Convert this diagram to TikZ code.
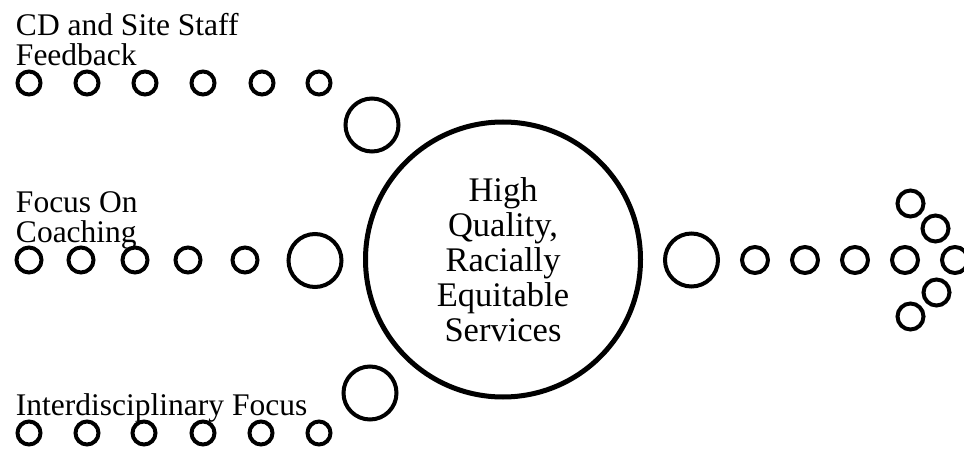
\documentclass[tikz,border=0pt]{standalone}
\usepackage{fontspec}
\newfontfamily\labelfont{Liberation Serif}
\begin{document}
\begin{tikzpicture}[x=1pt,y=-1pt,line width=4pt,
	bigring/.style={draw,circle,inner sep=0pt,minimum size=53pt},
	rowlabel/.style={anchor=north west,inner sep=0pt,align=left,font=\labelfont\fontsize{31.5}{29.5}\selectfont}]
	\useasboundingbox (0,0) rectangle (964,454);
	% centre
	\node[draw,circle,line width=5pt,inner sep=0pt,minimum size=275pt,align=center,
		font=\labelfont\fontsize{34.5}{35}\selectfont] (core) at (503,259.5) {High\\Quality,\\Racially\\Equitable\\Services};
	% feedback row
	\node[rowlabel] (feedback) at (14,11.5) {CD and Site Staff\\Feedback};
	\foreach \x in {29,87,145,203,262,319} \draw (\x,83) circle (11.5pt);
	\node[bigring] (fbring) at (372,125) {};
	% coaching row
	\node[rowlabel] (coaching) at (14,190) {Focus On\\Coaching};
	\foreach \x in {29,81,135,188,245} \draw (\x,260) circle (12.5pt);
	\node[bigring] (coring) at (315,260.5) {};
	% interdisciplinary row
	\node[rowlabel] (inter) at (14,391.5) {Interdisciplinary Focus};
	\foreach \x in {29,87,144,203,261,319} \draw (\x,433) circle (11.5pt);
	\node[bigring] (inring) at (370,393) {};
	% outgoing arrow
	\node[bigring] (outring) at (691.5,260) {};
	\foreach \x in {755,805,855,905,955} \draw (\x,260) circle (13pt);
	\foreach \x/\y in {910.5/203.5,935.5/228.5,936.5/292.5,910.5/316.5} \draw (\x,\y) circle (13pt);
\end{tikzpicture}
\end{document}
